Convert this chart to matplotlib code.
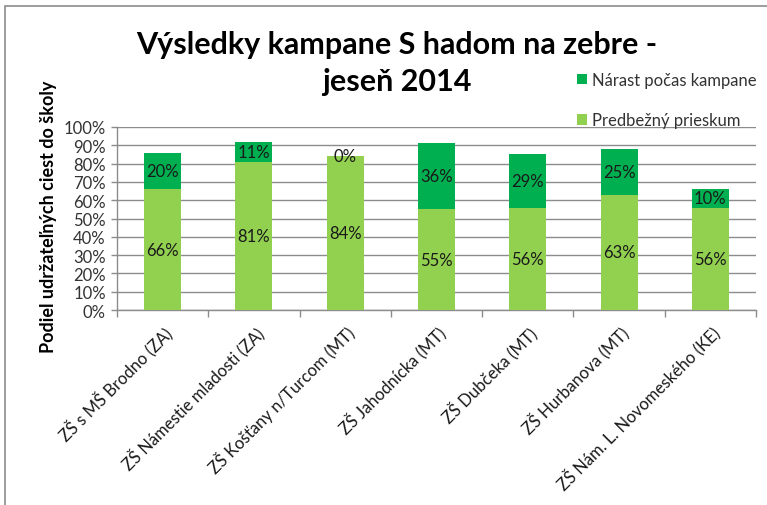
import matplotlib
matplotlib.use("Agg")
import matplotlib.pyplot as plt
from matplotlib.patches import Rectangle
import numpy as np

plt.rcParams['font.family'] = ['Lato', 'DejaVu Sans']

categories = ["ZŠ s MŠ Brodno (ZA)", "ZŠ Námestie mladosti (ZA)", "ZŠ Košťany n/Turcom (MT)",
              "ZŠ Jahodnícka (MT)", "ZŠ Dubčeka (MT)", "ZŠ Hurbanova (MT)",
              "ZŠ Nám. L. Novomeského (KE)"]
predbezny = [66, 81, 84, 55, 56, 63, 56]
narast = [20, 11, 0, 36, 29, 25, 10]
yticks = [0, 10, 20, 30, 40, 50, 60, 70, 80, 90, 100]

c_light = "#92D050"
c_dark = "#00B050"

fig = plt.figure(figsize=(7.67, 5.06), dpi=100)
fig.patches.append(Rectangle((5/767, -0.1), 1.2, 1 - 7/506 + 0.1, transform=fig.transFigure,
                             fill=False, edgecolor="#8c8c8c", linewidth=1.2))

ax = fig.add_axes([117/767, 1 - 311/506, (756 - 117)/767, (311 - 128)/506])
x = np.arange(len(categories))
w = 0.405
b1 = ax.bar(x, predbezny, w, color=c_light, label="Predbežný prieskum", zorder=3)
b2 = ax.bar(x, narast, w, bottom=predbezny, color=c_dark, label="Nárast počas kampane", zorder=3)

for xi, p, n in zip(x, predbezny, narast):
    ax.text(xi, p / 2, f"{p}%", ha="center", va="center", fontsize=12, color="#1a1a1a", zorder=4)
    ax.text(xi, p + n / 2, f"{n}%", ha="center", va="center", fontsize=12, color="#1a1a1a", zorder=4)

ax.set_xlim(-0.5, len(categories) - 0.5)
ax.set_ylim(0, 100)
ax.set_yticks(yticks)
ax.set_yticklabels([f"{t}%" for t in yticks], fontsize=12, color="#333333")
ax.yaxis.grid(True, color="#8c8c8c", linewidth=1, zorder=0)
ax.set_axisbelow(True)

ax.set_xticks(x)
ax.set_xticklabels(categories, rotation=45, ha="right", rotation_mode="anchor",
                   fontsize=12, color="#1a1a1a")
ax.tick_params(axis="x", length=0, pad=9)
ax.set_xticks(np.arange(-0.5, len(categories) + 0.5, 1), minor=True)
ax.tick_params(axis="x", which="minor", length=5, color="#8c8c8c", width=1)
ax.tick_params(axis="y", length=4, color="#8c8c8c", width=1, pad=4)

for s in ["top", "right"]:
    ax.spines[s].set_visible(False)
for s in ["left", "bottom"]:
    ax.spines[s].set_color("#8c8c8c")
    ax.spines[s].set_linewidth(1)

ax.set_ylabel("Podiel udržateľných ciest do školy", fontsize=13, fontweight="bold")
ax.yaxis.set_label_coords(-69/639, (311 - 217)/183)
ax.yaxis.label.set_va("center")

fig.text(397/767, 1 - 45/506, "Výsledky kampane S hadom na zebre -", ha="center", va="center",
         fontsize=22, fontweight="bold")
fig.text(397/767, 1 - 82/506, "jeseň 2014", ha="center", va="center",
         fontsize=22, fontweight="bold")

handles = [b2, b1]
leg = fig.legend(handles, [h.get_label() for h in handles], loc="upper left",
                 bbox_to_anchor=(577/767, 1 - 73/506), frameon=False, fontsize=12,
                 handlelength=0.6, handleheight=0.6, handletextpad=0.3, labelspacing=1.45,
                 borderaxespad=0, borderpad=0)
for t in leg.get_texts():
    t.set_color("#333333")

fig.savefig("out.png", dpi=100)
